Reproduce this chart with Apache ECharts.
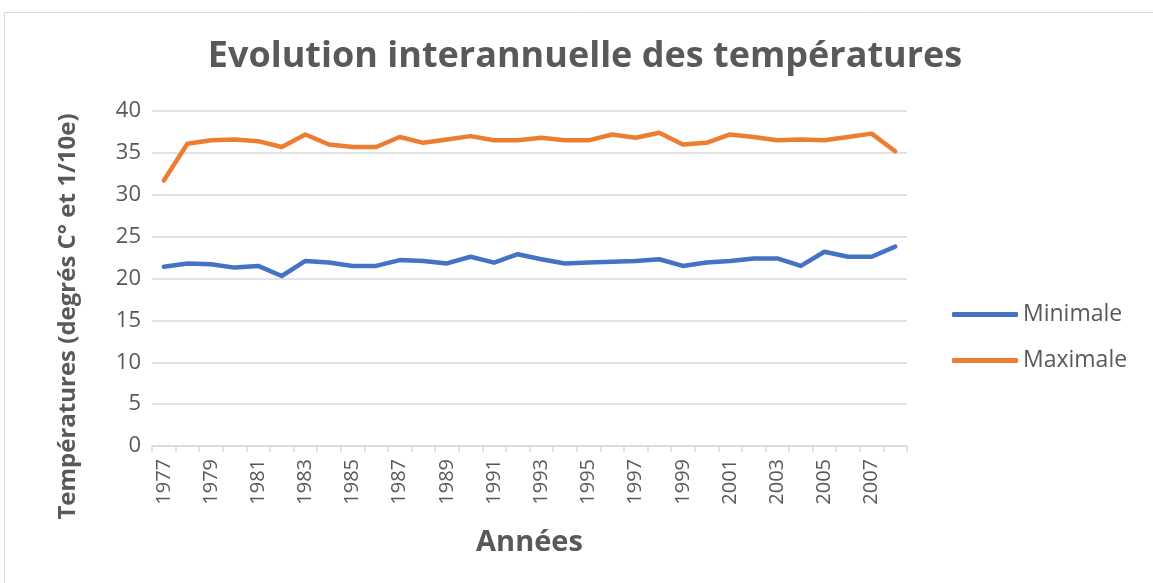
<!DOCTYPE html>
<html>
<head>
<meta charset="utf-8">
<script src="https://cdn.jsdelivr.net/npm/echarts@6/dist/echarts.min.js"></script>
<style>
  html, body { margin: 0; padding: 0; background: #fff; }
  #graf { width: 1153px; height: 583px; }
</style>
</head>
<body>
<div id="graf"></div>
<script>
// données
var annees = [];
for (var a = 1977; a <= 2008; a++) annees.push(String(a));

var minimale = [21.4, 21.8, 21.7, 21.3, 21.5, 20.3, 22.1, 21.9, 21.5, 21.5,
                22.2, 22.1, 21.8, 22.6, 21.9, 22.9, 22.3, 21.8, 21.9, 22.0,
                22.1, 22.3, 21.5, 21.9, 22.1, 22.4, 22.4, 21.5, 23.2, 22.6,
                22.6, 23.8];

var maximale = [31.7, 36.1, 36.5, 36.6, 36.4, 35.7, 37.2, 36.0, 35.7, 35.7,
                36.9, 36.2, 36.6, 37.0, 36.5, 36.5, 36.8, 36.5, 36.5, 37.2,
                36.8, 37.4, 36.0, 36.2, 37.2, 36.9, 36.5, 36.6, 36.5, 36.9,
                37.3, 35.2];

var gris = "#595959";
var grille = "#d9d9d9";

var myChart = echarts.init(document.getElementById("graf"));

var option = {
    backgroundColor: "#fff",
    animation: false,
    title: {
        text: "Evolution interannuelle des températures",
        left: 580,
        textAlign: "center",
        top: 34,
        textStyle: {
            color: gris,
            fontFamily: "Open Sans",
            fontWeight: "bold",
            fontSize: 36
        }
    },
    graphic: [
        {
            type: "rect",
            shape: { x: 4.5, y: 12.5, width: 1170, height: 600 },
            style: { fill: "none", stroke: grille, lineWidth: 1 }
        }
    ],
    legend: {
        orient: "vertical",
        left: 947,
        top: 298,
        itemWidth: 66,
        itemHeight: 5,
        itemGap: 23,
        icon: "roundRect",
        textStyle: {
            color: gris,
            fontFamily: "Open Sans",
            fontSize: 23
        },
        data: ["Minimale", "Maximale"]
    },
    grid: {
        left: 152,
        right: 246,
        top: 111,
        bottom: 137
    },
    xAxis: {
        type: "category",
        data: annees,
        boundaryGap: true,
        name: "Années",
        nameLocation: "middle",
        nameGap: 82,
        nameTextStyle: {
            color: gris,
            fontFamily: "Open Sans",
            fontWeight: "bold",
            fontSize: 29
        },
        axisLine: { lineStyle: { color: grille, width: 1.5 } },
        axisTick: { show: true, interval: 0, length: 6, lineStyle: { color: grille, width: 1.5 } },
        axisLabel: {
            interval: 1,
            rotate: 90,
            margin: 13,
            color: gris,
            fontFamily: "Open Sans",
            fontSize: 20
        }
    },
    yAxis: {
        type: "value",
        min: 0,
        max: 40,
        interval: 5,
        name: "Températures (degrés C° et 1/10e)",
        nameLocation: "middle",
        nameGap: 72,
        nameRotate: 90,
        nameTextStyle: {
            color: gris,
            fontFamily: "Open Sans",
            fontWeight: "bold",
            fontSize: 24,
            padding: [0, 76, 0, 0]
        },
        axisLine: { show: false },
        axisTick: { show: false },
        splitLine: { lineStyle: { color: grille, width: 1.5 } },
        axisLabel: {
            margin: 11,
            color: gris,
            fontFamily: "Open Sans",
            fontSize: 22
        }
    },
    series: [
        {
            name: "Minimale",
            type: "line",
            data: minimale,
            symbol: "none",
            itemStyle: { color: "#4472C4" },
            lineStyle: { width: 4.5, color: "#4472C4", cap: "round", join: "round" }
        },
        {
            name: "Maximale",
            type: "line",
            data: maximale,
            symbol: "none",
            itemStyle: { color: "#ED7D31" },
            lineStyle: { width: 4.5, color: "#ED7D31", cap: "round", join: "round" }
        }
    ]
};

myChart.setOption(option);
</script>
</body>
</html>
